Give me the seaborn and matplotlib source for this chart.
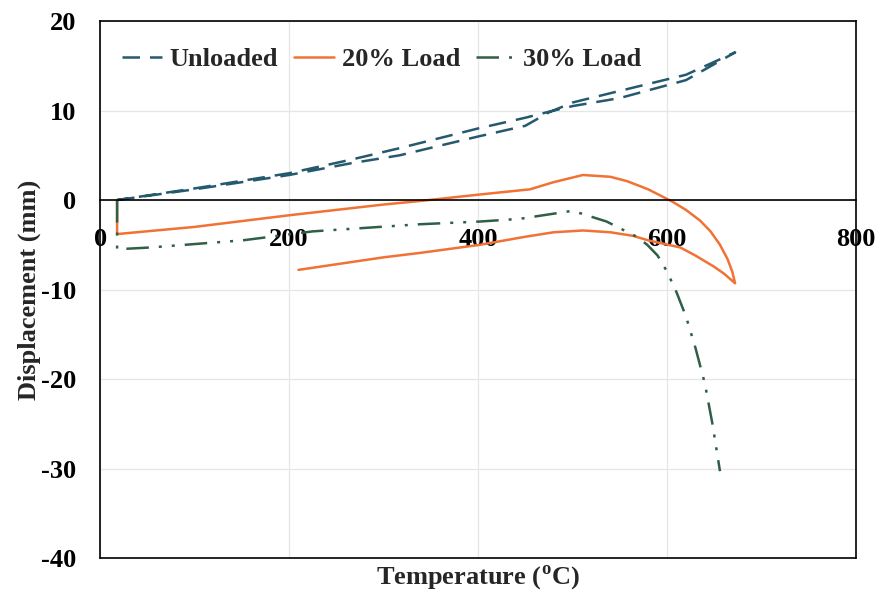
import matplotlib
matplotlib.use("Agg")
import matplotlib.pyplot as plt
import seaborn as sns

# Unloaded: heating branch then cooling branch (temperature degC, displacement mm)
unl_T = [18, 100, 200, 265, 317, 400, 450, 475, 500, 550, 620, 672,
         620, 550, 500, 480, 450, 400, 317, 265, 200, 100, 18]
unl_D = [0.0, 1.2, 2.8, 4.1, 5.0, 7.1, 8.3, 9.8, 10.9, 12.2, 14.0, 16.5,
         13.4, 11.4, 10.5, 10.0, 9.2, 8.0, 5.8, 4.5, 3.0, 1.3, 0.0]

# 20% Load
l20_T = [18, 18, 100, 200, 300, 339, 400, 455, 480, 511, 540, 558, 580, 606,
         620, 635, 646, 656, 664, 669, 672,
         660, 649, 630, 614, 580, 564, 540, 511, 480, 450, 402, 339, 300, 210]
l20_D = [0.0, -3.8, -3.0, -1.7, -0.5, -0.1, 0.6, 1.2, 2.0, 2.8, 2.6, 2.1, 1.2, -0.2,
         -1.1, -2.3, -3.5, -5.0, -6.6, -8.0, -9.3,
         -8.2, -7.4, -6.2, -5.3, -4.5, -4.0, -3.6, -3.4, -3.6, -4.1, -5.0, -5.9, -6.4, -7.8]

# 30% Load
l30_T = [18, 18, 53, 151, 225, 339, 402, 444, 500, 536, 568, 579, 590, 600,
         610, 620, 630, 640, 648, 656]
l30_D = [0.0, -5.5, -5.3, -4.5, -3.5, -2.7, -2.4, -2.1, -1.2, -2.4, -4.1, -5.0, -6.2, -8.0,
         -10.3, -13.0, -16.5, -20.5, -25.0, -30.3]

x_ticks = [0, 200, 400, 600, 800]
y_ticks = [-40, -30, -20, -10, 0, 10, 20]
labels = ["Unloaded", "20% Load", "30% Load"]

sns.set_theme(style="white")
plt.rcParams["font.family"] = ["Liberation Serif", "DejaVu Serif"]
plt.rcParams["font.weight"] = "bold"
plt.rcParams["axes.labelweight"] = "bold"
plt.rcParams["axes.unicode_minus"] = False
plt.rcParams["mathtext.fontset"] = "custom"
plt.rcParams["mathtext.rm"] = "Liberation Serif:bold"
plt.rcParams["mathtext.bf"] = "Liberation Serif:bold"

FS = 19
fig = plt.figure(figsize=(8.78, 5.92), dpi=100)
ax = fig.add_axes([0.114, 0.0574, 0.861, 0.907])

ax.grid(True, color="#e6e6e6", linewidth=0.9)
ax.set_axisbelow(True)

sns.lineplot(x=unl_T, y=unl_D, sort=False, estimator=None, ax=ax,
             color="#24596e", linewidth=1.8, linestyle=(0, (7, 4)), label=labels[0])
sns.lineplot(x=l20_T, y=l20_D, sort=False, estimator=None, ax=ax,
             color="#f07234", linewidth=1.8, linestyle="-", label=labels[1])
sns.lineplot(x=l30_T, y=l30_D, sort=False, estimator=None, ax=ax,
             color="#2f5f45", linewidth=1.8, linestyle=(0, (9, 4, 1.2, 4, 1.2, 4)), label=labels[2])

for s in ax.spines.values():
    s.set_color("black")
    s.set_linewidth(1.2)
ax.spines["bottom"].set_position(("data", 0))
ax.plot([0, 1], [0, 0], transform=ax.transAxes, color="black", linewidth=1.2, clip_on=False)

ax.set_xlim(0, 800)
ax.set_ylim(-40, 20)
ax.set_xticks(x_ticks)
ax.set_yticks(y_ticks)
ax.set_xticklabels([str(v) for v in x_ticks])
ax.set_yticklabels([str(v) for v in y_ticks])

ax.tick_params(axis="both", which="major", direction="out", length=7, width=1.2,
               color="black", labelcolor="black", labelsize=FS)
ax.tick_params(axis="x", pad=13)
ax.tick_params(axis="y", pad=10)
for lab in ax.get_xticklabels() + ax.get_yticklabels():
    lab.set_fontweight("bold")

ax.set_ylabel("Displacement (mm)", fontsize=FS, fontweight="bold", labelpad=0)
ax.text(0.5, -0.036, r"Temperature ($^{\mathrm{o}}$C)", transform=ax.transAxes,
        ha="center", va="center", fontsize=FS, fontweight="bold")
ax.set_xlabel("")

leg = ax.legend(loc="upper left", ncol=3, frameon=False, fontsize=FS,
                handlelength=1.5, handletextpad=0.3, columnspacing=0.6,
                bbox_to_anchor=(0.005, 0.985), borderaxespad=0.3)
for t in leg.get_texts():
    t.set_fontweight("bold")

fig.savefig("out.png", dpi=100)
